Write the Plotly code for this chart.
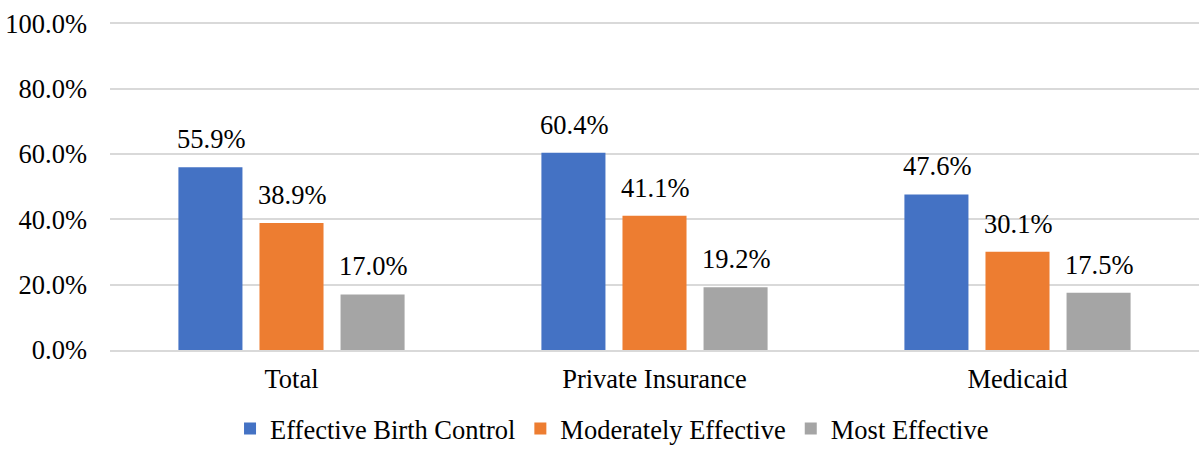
import plotly.graph_objects as go

categories = ["Total", "Private Insurance", "Medicaid"]
effective = [55.9, 60.4, 47.6]
moderate = [38.9, 41.1, 30.1]
most = [17.0, 19.2, 17.5]
series_names = ["Effective Birth Control", "Moderately Effective", "Most Effective"]
colors = ["#4472C4", "#ED7D31", "#A5A5A5"]
y_ticks = [0, 20, 40, 60, 80, 100]
y_tick_labels = ["0.0%", "20.0%", "40.0%", "60.0%", "80.0%", "100.0%"]

FONT = "Liberation Serif"
FS = 26.5

fig = go.Figure()
all_series = [effective, moderate, most]
for name, vals, col in zip(series_names, all_series, colors):
    fig.add_trace(go.Bar(
        x=categories, y=vals, name=name, marker_color=col, marker_line_width=0,
        hoverinfo="x+y",
    ))

# data labels as annotations positioned above each bar
slot_px = 81
for i, vals in enumerate(all_series):
    for cat, v in zip(categories, vals):
        fig.add_annotation(x=cat, y=v, xref="x", yref="y", text=f"{v:.1f}%",
                           showarrow=False, xshift=(i - 1) * slot_px, yshift=11,
                           yanchor="bottom", xanchor="center",
                           font=dict(family=FONT, size=FS, color="#000000"))

fig.update_layout(
    width=1199, height=449,
    margin=dict(l=110, r=0, t=20, b=99, autoexpand=False),
    paper_bgcolor="white", plot_bgcolor="white",
    barmode="group", bargap=0.33, bargroupgap=0.21,
    font=dict(family=FONT, size=FS, color="#000000"),
    showlegend=True,
    legend=dict(orientation="h", x=0.461, xanchor="center", yref="container",
                y=0.045, yanchor="middle",
                font=dict(family=FONT, size=FS, color="#000000"),
                itemwidth=30, traceorder="normal"),
    yaxis=dict(range=[0, 101], tickmode="array", tickvals=y_ticks, ticktext=y_tick_labels,
               showgrid=True, gridcolor="#D9D9D9",
               gridwidth=1.5, zeroline=False, showline=False, ticklabelstandoff=22,
               tickfont=dict(family=FONT, size=FS)),
    xaxis=dict(showline=True, linecolor="#D9D9D9", linewidth=1.5, showgrid=False,
               ticklabelstandoff=4, tickfont=dict(family=FONT, size=FS)),
)

fig.write_html("out.html")
